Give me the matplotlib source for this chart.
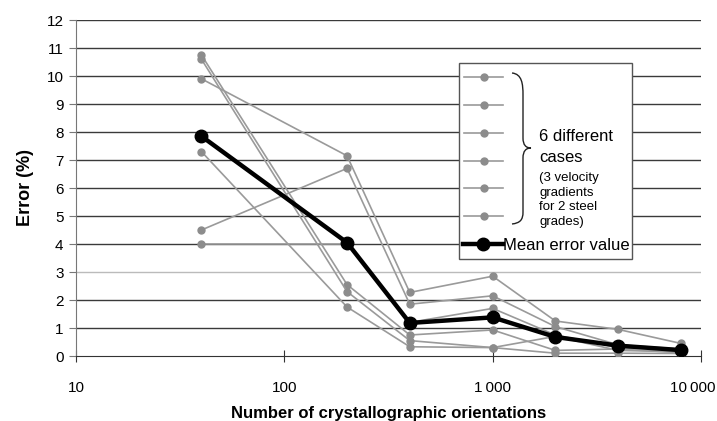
import matplotlib.pyplot as plt
from matplotlib.lines import Line2D
from matplotlib.patches import Rectangle, PathPatch
from matplotlib.path import Path

plt.rcParams['font.family'] = ['Liberation Sans', 'DejaVu Sans']

# number of crystallographic orientations
orientations = [40, 200, 400, 1000, 2000, 4000, 8000]

# error (%) for the six cases
case_1 = [10.75, 2.55, 0.75, 0.93, 0.20, 0.25, 0.12]
case_2 = [10.60, 2.30, 0.55, 0.30, 0.10, 0.10, 0.09]
case_3 = [9.90, 7.15, 2.27, 2.85, 1.25, 0.95, 0.45]
case_4 = [7.30, 1.75, 0.33, 0.30, 0.70, 0.20, 0.15]
case_5 = [4.50, 6.70, 1.85, 2.15, 1.05, 0.40, 0.25]
case_6 = [4.00, 4.00, 1.20, 1.70, 0.75, 0.30, 0.20]
cases = [case_1, case_2, case_3, case_4, case_5, case_6]

mean_error = [7.85, 4.05, 1.18, 1.38, 0.68, 0.37, 0.21]

x_ticks = [10, 100, 1000, 10000]
x_tick_labels = ['10', '100', '1\u2009000', '10\u2009000']
y_ticks = list(range(0, 13))

W, H = 717, 421
fig = plt.figure(figsize=(W / 100, H / 100), dpi=100)
L, R, T, B = 76, 701, 20, 356
ax = fig.add_axes([L / W, 1 - B / H, (R - L) / W, (B - T) / H])

gray = '#9a9a9a'
for c in cases:
    ax.plot(orientations, c, color=gray, lw=1.2, marker='o', ms=5,
            mfc='#8c8c8c', mec='#8c8c8c', zorder=3)
ax.plot(orientations, mean_error, color='black', lw=3.2, marker='o', ms=9,
        zorder=4)

ax.set_xscale('log')
ax.set_xlim(10, 10000)
ax.set_ylim(0, 12)
ax.set_xticks(x_ticks)
# the last label sits against the right edge, drawn separately below
ax.set_xticklabels(x_tick_labels[:-1] + [''])
ax.xaxis.set_minor_locator(plt.NullLocator())
ax.set_yticks(y_ticks)

# horizontal grid at every unit
for y in y_ticks[1:]:
    ax.axhline(y, color='#bbbbbb' if y == 3 else '#3a3a3a', lw=1.0, zorder=1)

for s in ['top', 'right']:
    ax.spines[s].set_visible(False)
ax.spines['left'].set_color('#777777')
ax.spines['bottom'].set_color('#333333')
ax.tick_params(axis='x', direction='inout', length=8, pad=14, labelsize=11,
               color='#333333')
ax.tick_params(axis='y', direction='out', length=5, pad=4, labelsize=11,
               color='#777777')

ax.annotate(x_tick_labels[-1], xy=(1, 0), xycoords='axes fraction',
            xytext=(15, -32), textcoords='offset pixels', fontsize=11,
            ha='right', va='center')

ax.set_xlabel('Number of crystallographic orientations', fontsize=12,
              fontweight='bold', labelpad=8)
ax.set_ylabel('Error (%)', fontsize=13, fontweight='bold', labelpad=9)


def to_ax(px, py):
    return (px - L) / (R - L), (B - py) / (B - T)


# legend box
x0, y0 = to_ax(459, 259)
x1, y1 = to_ax(632, 63)
ax.add_patch(Rectangle((x0, y0), x1 - x0, y1 - y0, transform=ax.transAxes,
                       facecolor='white', edgecolor='#555555', lw=1.0,
                       zorder=5))

for py in [77, 105, 133, 161, 188, 216]:
    (ha, va), (hb, _) = to_ax(464, py), to_ax(503, py)
    ax.add_line(Line2D([ha, hb], [va, va], transform=ax.transAxes,
                       color=gray, lw=1.2, zorder=6))
    ax.add_line(Line2D([(ha + hb) / 2], [va], transform=ax.transAxes,
                       marker='o', ms=5, color='#8c8c8c', zorder=6))

(ha, va), (hb, _) = to_ax(463, 244), to_ax(503, 244)
ax.add_line(Line2D([ha, hb], [va, va], transform=ax.transAxes,
                   color='black', lw=3.2, zorder=6))
ax.add_line(Line2D([(ha + hb) / 2], [va], transform=ax.transAxes,
                   marker='o', ms=9, color='black', zorder=6))
tx, ty = to_ax(503, 245)
ax.text(tx, ty, 'Mean error value', transform=ax.transAxes, fontsize=12,
        va='center', ha='left', zorder=7)

# curly brace grouping the six cases
brace_pts = [(512, 73), (522, 74), (523, 84), (523, 95),
             (523, 138), (523, 138), (523, 138),
             (523, 145), (526, 148), (531, 148),
             (526, 148), (523, 151), (523, 158),
             (523, 212), (523, 212), (523, 212),
             (523, 220), (520, 223), (512, 224)]
codes = [Path.MOVETO, Path.CURVE4, Path.CURVE4, Path.CURVE4,
         Path.LINETO, Path.LINETO, Path.LINETO,
         Path.CURVE4, Path.CURVE4, Path.CURVE4,
         Path.CURVE4, Path.CURVE4, Path.CURVE4,
         Path.LINETO, Path.LINETO, Path.LINETO,
         Path.CURVE4, Path.CURVE4, Path.CURVE4]
brace = Path([to_ax(px, py) for px, py in brace_pts], codes)
ax.add_patch(PathPatch(brace, transform=ax.transAxes, facecolor='none',
                       edgecolor='#222222', lw=1.0, zorder=6))

tx, ty = to_ax(539, 147)
ax.text(tx, ty, '6 different\ncases', transform=ax.transAxes, fontsize=12,
        va='center', ha='left', linespacing=1.45, zorder=7)
tx, ty = to_ax(539, 200)
ax.text(tx, ty, '(3 velocity\ngradients\nfor 2 steel\ngrades)',
        transform=ax.transAxes, fontsize=9.5, va='center', ha='left',
        linespacing=1.3, zorder=7)

fig.savefig('out.png', dpi=100)
